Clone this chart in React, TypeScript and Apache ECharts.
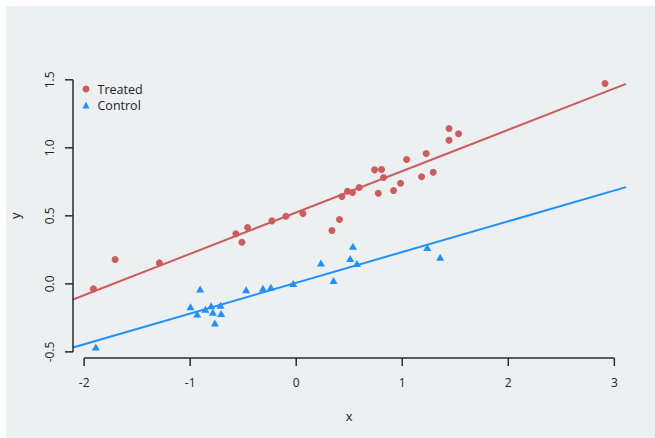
import React, { useEffect, useRef } from "react";
import * as echarts from "echarts";

const treatedX = [-1.912, -1.708, -1.29, -0.569, -0.512, -0.459, -0.229, -0.097, 0.063, 0.337, 0.408, 0.431, 0.484, 0.531, 0.594, 0.739, 0.805, 0.824, 0.774, 0.918, 0.984, 1.041, 1.182, 1.226, 1.292, 1.441, 1.531, 1.441, 2.912];
const treatedY = [-0.037, 0.179, 0.154, 0.368, 0.306, 0.414, 0.463, 0.497, 0.517, 0.392, 0.473, 0.642, 0.681, 0.671, 0.708, 0.838, 0.84, 0.782, 0.666, 0.686, 0.74, 0.914, 0.787, 0.958, 0.821, 1.142, 1.103, 1.056, 1.473];
const controlX = [-1.89, -0.906, -0.997, -0.934, -0.856, -0.802, -0.786, -0.714, -0.708, -0.767, -0.472, -0.314, -0.239, -0.028, 0.233, 0.352, 0.535, 0.509, 0.573, 1.236, 1.358];
const controlY = [-0.465, -0.037, -0.169, -0.221, -0.187, -0.16, -0.209, -0.157, -0.218, -0.287, -0.044, -0.032, -0.025, 0.002, 0.154, 0.024, 0.276, 0.186, 0.149, 0.267, 0.196];
// fitted lines: [intercept, slope]
const treatedFit = [0.525, 0.304];
const controlFit = [0.008, 0.226];
const xTicks = [-2, -1, 0, 1, 2, 3];
const yTicks = [-0.5, 0, 0.5, 1, 1.5];
const xRange = [-2.105, 3.11];
const yRange = [-0.545, 1.55];

const RED = "#cd5c5c";
const BLUE = "#1e90ff";
const INK = "#222222";
const AXIS = "#2b2b2b";
const FONT = "Open Sans";
const W = 655;
const H = 438;
const G = { left: 73, right: 29, top: 73, bottom: 80 };
const M = 14; // extra room inside the drawing grid for axis lines and ticks
const TICK = 8;

export default function App() {
  const ref = useRef<HTMLDivElement>(null);
  useEffect(() => {
    if (!ref.current) return;
    const chart = echarts.init(ref.current, undefined, { renderer: "svg" });
    const fitLine = (f: number[]) => xRange.map((x) => [x, f[0] + f[1] * x]);
    const pxPerX = (W - G.left - G.right) / (xRange[1] - xRange[0]);
    const pxPerY = (H - G.top - G.bottom) / (yRange[1] - yRange[0]);
    const xT0 = xTicks[0];
    const xT1 = xTicks[xTicks.length - 1];
    const yT0 = yTicks[0];
    const yT1 = yTicks[yTicks.length - 1];
    const G0 = { left: G.left - M, right: G.right, top: G.top, bottom: G.bottom - M };
    const G2 = {
      left: G.left + (xT0 - xRange[0]) * pxPerX,
      right: G.right + (xRange[1] - xT1) * pxPerX,
      top: G.top + (yRange[1] - yT1) * pxPerY,
      bottom: G.bottom + (yT0 - yRange[0]) * pxPerY,
    };
    chart.setOption({
      animation: false,
      backgroundColor: "transparent",
      textStyle: { fontFamily: FONT },
      grid: [
        { ...G0, containLabel: false },
        { ...G2, containLabel: false },
      ],
      legend: {
        orient: "vertical",
        left: 77.5,
        top: 77,
        itemWidth: 7,
        itemHeight: 7,
        itemGap: 2,
        textStyle: { fontFamily: FONT, fontSize: 12.5, color: INK, lineHeight: 14, padding: [0, 0, 0, 3] },
        data: [
          { name: "Treated", icon: "circle" },
          { name: "Control", icon: "triangle" },
        ],
      },
      xAxis: [
        { type: "value", gridIndex: 0, min: xRange[0] - M / pxPerX, max: xRange[1], show: false },
        {
          type: "value",
          gridIndex: 1,
          min: xT0,
          max: xT1,
          interval: 1,
          offset: G2.bottom - G.bottom,
          name: "x",
          nameLocation: "middle",
          nameGap: 51,
          nameTextStyle: { fontFamily: FONT, fontSize: 13, color: INK },
          axisLine: { show: false, onZero: false },
          splitLine: { show: false },
          axisTick: { show: false },
          axisLabel: { margin: 18, fontSize: 12, color: INK, fontFamily: FONT, formatter: (v: number) => String(v) },
        },
      ],
      yAxis: [
        { type: "value", gridIndex: 0, min: yRange[0] - M / pxPerY, max: yRange[1], show: false },
        {
          type: "value",
          gridIndex: 1,
          min: yT0,
          max: yT1,
          interval: 0.5,
          offset: G2.left - G.left,
          name: "y",
          nameLocation: "middle",
          nameGap: 52,
          nameTextStyle: { fontFamily: FONT, fontSize: 13, color: INK },
          axisLine: { show: false, onZero: false },
          splitLine: { show: false },
          axisTick: { show: false },
          axisLabel: { rotate: 90, margin: 18, fontSize: 12, color: INK, fontFamily: FONT, formatter: (v: number) => v.toFixed(1) },
        },
      ],
      series: [
        {
          name: "Treated",
          type: "scatter",
          xAxisIndex: 0,
          yAxisIndex: 0,
          symbol: "circle",
          symbolSize: 7,
          itemStyle: { color: RED, opacity: 1 },
          data: treatedX.map((x, i) => [x, treatedY[i]]),
          z: 2,
        },
        {
          name: "Control",
          type: "scatter",
          xAxisIndex: 0,
          yAxisIndex: 0,
          symbol: "triangle",
          symbolSize: [8, 7],
          itemStyle: { color: BLUE, opacity: 1 },
          data: controlX.map((x, i) => [x, controlY[i]]),
          z: 2,
        },
        {
          name: "TreatedFit",
          type: "line",
          xAxisIndex: 0,
          yAxisIndex: 0,
          showSymbol: false,
          symbol: "none",
          lineStyle: { color: RED, width: 2 },
          data: fitLine(treatedFit),
          z: 3,
          silent: true,
        },
        {
          name: "ControlFit",
          type: "line",
          xAxisIndex: 0,
          yAxisIndex: 0,
          showSymbol: false,
          symbol: "none",
          lineStyle: { color: BLUE, width: 2 },
          data: fitLine(controlFit),
          z: 3,
          silent: true,
        },
        {
          name: "axes",
          type: "custom",
          xAxisIndex: 0,
          yAxisIndex: 0,
          clip: false,
          silent: true,
          z: 5,
          data: [[0, 0]],
          renderItem: (_params: any, api: any) => {
            const base = api.coord([xRange[0], yRange[0]]);
            const ax = base[0];
            const ay = base[1];
            const sx = (v: number) => api.coord([v, yRange[0]])[0];
            const sy = (v: number) => api.coord([xRange[0], v])[1];
            const st = { stroke: AXIS, lineWidth: 1.5 };
            const children: any[] = [
              { type: "line", shape: { x1: sx(xT0), y1: ay, x2: sx(xT1), y2: ay }, style: st },
              { type: "line", shape: { x1: ax, y1: sy(yT0), x2: ax, y2: sy(yT1) }, style: st },
            ];
            xTicks.forEach((t) => {
              children.push({ type: "line", shape: { x1: sx(t), y1: ay, x2: sx(t), y2: ay + TICK }, style: st });
            });
            yTicks.forEach((t) => {
              children.push({ type: "line", shape: { x1: ax - TICK, y1: sy(t), x2: ax, y2: sy(t) }, style: st });
            });
            return { type: "group", children };
          },
        },
      ],
    });
    return () => chart.dispose();
  }, []);
  return (
    <div style={{ position: "fixed", left: 0, top: 0, width: W, height: H, background: "#ffffff" }}>
      <div style={{ position: "absolute", left: 6, top: 6, width: W - 6, height: H - 6, background: "#ecf0f1" }} />
      <div ref={ref} style={{ position: "absolute", left: 0, top: 0, width: W, height: H }} />
    </div>
  );
}
